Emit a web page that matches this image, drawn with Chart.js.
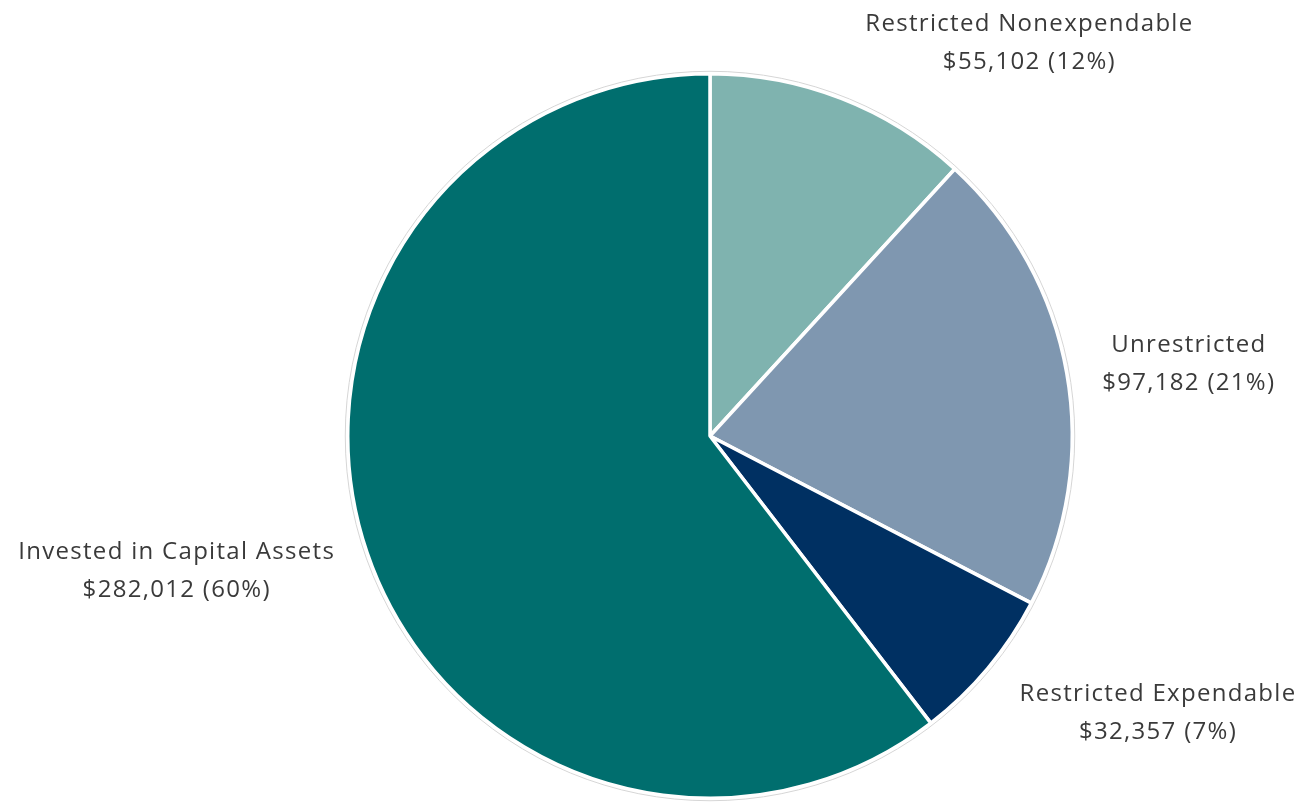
<!DOCTYPE html>
<html>
<head>
<meta charset="utf-8">
<script src="https://cdn.jsdelivr.net/npm/chart.js@4/dist/chart.umd.min.js"></script>
<style>
    html, body { margin: 0; padding: 0; background: #fff; }
    #wrap { width: 1306px; height: 802px; position: relative; }
</style>
</head>
<body>
<div id="wrap"><canvas id="netPosition"></canvas></div>
<script>
// ── Data ─────────────────────────────────────────────────────────────────────

const categories = ['Restricted Nonexpendable', 'Unrestricted', 'Restricted Expendable', 'Invested in Capital Assets'];
const amounts    = [55102, 97182, 32357, 282012];
const colors     = ['#7fb3af', '#7f97b0', '#003062', '#006e6e'];

// label centres, relative to the pie centre, in units of the radius
const labelOffsets = [[0.879, -1.085], [1.319, -0.198], [1.234, 0.766], [-1.475, 0.374]];

// ── Helpers ──────────────────────────────────────────────────────────────────

const total = amounts.reduce((a, b) => a + b, 0);

function money(v) {
    return '$' + v.toLocaleString('en-US');
}

function pct(v) {
    return Math.round(v / total * 100) + '%';
}

// faint grey rim + outside labels
const pieLabels = {
    id: 'pieLabels',
    afterDatasetsDraw(chart) {
        const ctx  = chart.ctx;
        const arcs = chart.getDatasetMeta(0).data;
        const { x, y, outerRadius } = arcs[0];

        ctx.save();
        ctx.beginPath();
        ctx.arc(x, y, outerRadius + 2.5, 0, Math.PI * 2);
        ctx.strokeStyle = '#d6d6d6';
        ctx.lineWidth = 1;
        ctx.stroke();

        ctx.fillStyle = '#3a3a3a';
        ctx.font = "24px 'Open Sans', sans-serif";
        ctx.letterSpacing = '1.3px';
        ctx.textAlign = 'center';
        ctx.textBaseline = 'middle';
        categories.forEach((name, i) => {
            const lx = x + labelOffsets[i][0] * outerRadius + 1;
            const ly = y + labelOffsets[i][1] * outerRadius;
            ctx.fillText(name, lx, ly - 19);
            ctx.fillText(`${money(amounts[i])} (${pct(amounts[i])})`, lx, ly + 19);
        });
        ctx.restore();
    }
};

// ── Chart ────────────────────────────────────────────────────────────────────

new Chart(document.getElementById('netPosition'), {
    type: 'pie',
    data: {
        labels: categories,
        datasets: [{
            data: amounts,
            backgroundColor: colors,
            borderColor: '#ffffff',
            borderWidth: 3.5
        }]
    },
    options: {
        responsive: true,
        maintainAspectRatio: false,
        animation: false,
        layout: { padding: { left: 346, right: 232, top: 71, bottom: 1 } },
        plugins: {
            legend: { display: false },
            tooltip: { enabled: false }
        }
    },
    plugins: [pieLabels]
});
</script>
</body>
</html>
